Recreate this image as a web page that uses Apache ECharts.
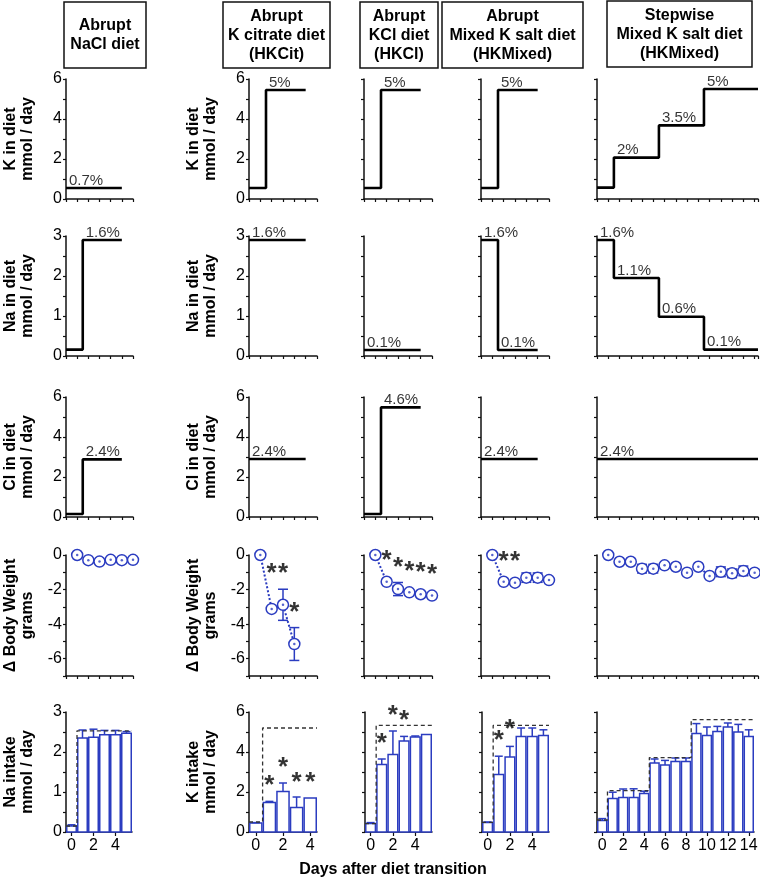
<!DOCTYPE html>
<html><head><meta charset="utf-8">
<script src="https://cdn.jsdelivr.net/npm/echarts@6/dist/echarts.min.js"></script>
<style>html,body{margin:0;padding:0;background:#fff}#c{width:760px;height:880px}</style>
</head><body><div id="c"></div>
<script>
// ================= DATA =================
const headerTitles = ['Abrupt\nNaCl diet', 'Abrupt\nK citrate diet\n(HKCit)', 'Abrupt\nKCl diet\n(HKCl)', 'Abrupt\nMixed K salt diet\n(HKMixed)', 'Stepwise\nMixed K salt diet\n(HKMixed)'];
const xTitle = 'Days after diet transition';
const yTitlesCol0 = ['K in diet\nmmol / day', 'Na in diet\nmmol / day', 'Cl in diet\nmmol / day', '\u0394 Body Weight\ngrams', 'Na intake\nmmol / day'];
const yTitlesCol1 = ['K in diet\nmmol / day', 'Na in diet\nmmol / day', 'Cl in diet\nmmol / day', '\u0394 Body Weight\ngrams', 'K intake\nmmol / day'];
const xTicksAbrupt = [0, 2, 4];
const xTicksStepwise = [0, 2, 4, 6, 8, 10, 12, 14];

// diet schedule (day of change, end of drawn line)
const dietSwitchAbrupt = [0.5];
const dietSwitchStepwise = [0.5, 4.5, 8.5];
const dietEndAbrupt = 4;
const dietEndStepwise = 13.3;

// K in diet (mmol/day)
const kDietNaCl = [0.55, 0.55];
const kDietHKCit = [0.55, 5.45];
const kDietHKCl = [0.55, 5.45];
const kDietHKMixed = [0.55, 5.45];
const kDietStepwise = [0.57, 2.07, 3.68, 5.5];
const kDietPctNaCl = ['0.7%', null];
const kDietPctHKCit = [null, '5%'];
const kDietPctHKCl = [null, '5%'];
const kDietPctHKMixed = [null, '5%'];
const kDietPctStepwise = [null, '2%', '3.5%', '5%'];

// Na in diet (mmol/day)
const naDietNaCl = [0.16, 2.9];
const naDietHKCit = [2.9, 2.9];
const naDietHKCl = [0.15, 0.15];
const naDietHKMixed = [2.9, 0.15];
const naDietStepwise = [2.9, 1.95, 0.98, 0.16];
const naDietPctNaCl = [null, '1.6%'];
const naDietPctHKCit = ['1.6%', null];
const naDietPctHKCl = ['0.1%', null];
const naDietPctHKMixed = ['1.6%', '0.1%'];
const naDietPctStepwise = ['1.6%', '1.1%', '0.6%', '0.1%'];

// Cl in diet (mmol/day)
const clDietNaCl = [0.15, 2.88];
const clDietHKCit = [2.9, 2.9];
const clDietHKCl = [0.15, 5.48];
const clDietHKMixed = [2.9, 2.9];
const clDietStepwise = [2.9, 2.9, 2.9, 2.9];
const clDietPctNaCl = [null, '2.4%'];
const clDietPctHKCit = ['2.4%', null];
const clDietPctHKCl = [null, '4.6%'];
const clDietPctHKMixed = ['2.4%', null];
const clDietPctStepwise = ['2.4%', null, null, null];

// Delta body weight (grams), mean and SEM
const bwDaysAbrupt = [0, 1, 2, 3, 4, 5];
const bwDaysHKCit = [0, 1, 2, 3];
const bwDaysStepwise = [0, 1, 2, 3, 4, 5, 6, 7, 8, 9, 10, 11, 12, 13];
const bwNaCl = [0, -0.3, -0.38, -0.28, -0.3, -0.28];
const bwNaClSem = [0, 0.08, 0.08, 0.08, 0.08, 0.08];
const bwHKCit = [0, -3.12, -2.88, -5.15];
const bwHKCitSem = [0, 0.15, 0.9, 0.95];
const bwHKCl = [0, -1.55, -1.97, -2.16, -2.27, -2.35];
const bwHKClSem = [0, 0.1, 0.38, 0.1, 0.1, 0.08];
const bwHKMixed = [0, -1.55, -1.6, -1.31, -1.31, -1.45];
const bwHKMixedSem = [0, 0.1, 0.1, 0.27, 0.27, 0.1];
const bwStepwise = [0, -0.39, -0.39, -0.79, -0.79, -0.6, -0.68, -1.02, -0.68, -1.21, -0.97, -1.06, -0.92, -1.02];
const bwStepwiseSem = [0, 0.1, 0.1, 0.25, 0.25, 0.1, 0.1, 0.1, 0.1, 0.1, 0.28, 0.25, 0.28, 0.1];
const bwStarDaysHKCit = [1, 2, 3];
const bwStarLevelsHKCit = [-0.73, -0.73, -3.0];
const bwStarDaysHKCl = [1, 2, 3, 4, 5];
const bwStarLevelsHKCl = [0, -0.39, -0.62, -0.71, -0.81];
const bwStarDaysHKMixed = [1, 2];
const bwStarLevelsHKMixed = [-0.06, -0.06];

// Intake (mmol/day), mean and SEM; dashed = dietary content
const intakeDaysAbrupt = [0, 1, 2, 3, 4, 5];
const intakeDaysHKCit = [0, 1, 2, 3, 4];
const intakeDaysStepwise = [0, 1, 2, 3, 4, 5, 6, 7, 8, 9, 10, 11, 12, 13, 14];
const naIntakeNaCl = [0.15, 2.35, 2.37, 2.43, 2.43, 2.47];
const naIntakeNaClSem = [0.03, 0.2, 0.2, 0.11, 0.11, 0.04];
const naIntakeNaClDiet = [0.15, 2.53];
const kIntakeHKCit = [0.45, 1.48, 2.03, 1.23, 1.7];
const kIntakeHKCitSem = [0.02, 0.05, 0.42, 0.52, 0];
const kIntakeHKCitDiet = [0.5, 5.2];
const kIntakeHKCl = [0.42, 3.38, 3.88, 4.55, 4.75, 4.88];
const kIntakeHKClSem = [0.05, 0.27, 1.17, 0.23, 0.05, 0];
const kIntakeHKClDiet = [0.42, 5.33];
const kIntakeHKMixed = [0.48, 2.87, 3.75, 4.78, 4.78, 4.83];
const kIntakeHKMixedSem = [0.02, 0.92, 0.53, 0.42, 0.42, 0.28];
const kIntakeHKMixedDiet = [0.48, 5.33];
const kIntakeStepwise = [0.57, 1.67, 1.73, 1.73, 1.92, 3.45, 3.35, 3.53, 3.53, 4.92, 4.83, 5.03, 5.25, 5.0, 4.78];
const kIntakeStepwiseSem = [0.1, 0.32, 0.42, 0.43, 0.12, 0.2, 0.23, 0.17, 0.17, 0.5, 0.42, 0.25, 0.2, 0.38, 0.33];
const kIntakeStepwiseDiet = [0.6, 2.07, 3.72, 5.62];
const intakeStarDaysHKCit = [1, 2, 3, 4];
const intakeStarLevelsHKCit = [2.6, 3.5, 2.77, 2.77];
const intakeStarDaysHKCl = [1, 2, 3];
const intakeStarLevelsHKCl = [4.7, 6.1, 5.85];
const intakeStarDaysHKMixed = [1, 2];
const intakeStarLevelsHKMixed = [4.85, 5.4];

// ================= LAYOUT / STYLE =================
const BLUE = '#2b3cc0';
const INK = '#000';
const FONT = '"Liberation Sans", Arial, Helvetica, sans-serif';
const colLeft = [66, 249, 364, 481, 597];
const colWidth = [67, 68, 68, 68, 161];
const row5Left = [66, 249, 365, 482, 597];
const row5Width = [66, 68, 67, 67, 157];
const rowTop = [79, 236, 397, 555, 712];
const rowH = [120, 120, 120, 121, 120];
const headerBoxes = [[64, 2, 82, 66], [223, 2, 107, 66], [360, 2, 78, 66], [442, 2, 141, 66], [607, 1, 145, 66]];

const grids = [], xAxes = [], yAxes = [], series = [];

function fmtEvery(step) {
  return v => { const q = v / step; return Math.abs(q - Math.round(q)) < 1e-6 ? String(v) : ''; };
}

function addPanel(r, c, xCfg, yCfg, yName) {
  const i = grids.length;
  const last = r === 4;
  grids.push({left: (last ? row5Left : colLeft)[c], top: rowTop[r], width: (last ? row5Width : colWidth)[c], height: rowH[r], containLabel: false, outerBoundsMode: 'none'});
  const axisLine = {show: true, onZero: false, lineStyle: {color: '#111', width: 1.5}};
  const axisTick = {show: true, inside: false, length: 3, lineStyle: {color: '#111', width: 1.2}};
  const x = {type: 'value', gridIndex: i, min: xCfg.min, max: xCfg.max, axisLine, splitLine: {show: false}, axisTick: Object.assign({}, axisTick), axisLabel: {show: false}};
  if (xCfg.labels) {
    x.axisLabel = {show: true, customValues: xCfg.labels, fontSize: 16, color: INK, fontFamily: FONT, margin: 6};
    x.axisTick = Object.assign({}, axisTick, {customValues: xCfg.labels, length: 4});
  } else {
    x.interval = xCfg.interval;
  }
  xAxes.push(x);
  const y = {type: 'value', gridIndex: i, min: yCfg.min, max: yCfg.max, interval: yCfg.interval, axisLine, axisTick, splitLine: {show: false},
    axisLabel: {show: c < 2, fontSize: 16, color: INK, fontFamily: FONT, margin: 4, formatter: fmtEvery(yCfg.labelEvery)}};
  if (yName) Object.assign(y, {name: yName, nameLocation: 'middle', nameGap: 30, nameRotate: 90, nameMoveOverlap: false,
    nameTextStyle: {fontSize: 16, fontWeight: 'bold', fontFamily: FONT, color: INK, lineHeight: 17}});
  yAxes.push(y);
  return i;
}

function stepPts(levels, switches, start, end) {
  const pts = [[start, levels[0]]];
  switches.forEach((s, k) => { pts.push([s, levels[k]]); pts.push([s, levels[k + 1]]); });
  pts.push([end, levels[levels.length - 1]]);
  return pts;
}

function addStep(i, levels, pcts, switches, end) {
  series.push({type: 'line', xAxisIndex: i, yAxisIndex: i, data: stepPts(levels, switches, -1, end), showSymbol: false, symbol: 'none',
    lineStyle: {color: INK, width: 2.6}, clip: false, silent: true, z: 3});
  const ann = [];
  pcts.forEach((t, k) => { if (t) ann.push([k === 0 ? -1 : switches[k - 1], levels[k], t]); });
  series.push({type: 'scatter', xAxisIndex: i, yAxisIndex: i, data: ann, symbolSize: 0, clip: false, silent: true, z: 4,
    label: {show: true, position: 'top', align: 'left', distance: 0, offset: [3, 0], formatter: p => p.data[2], fontSize: 15, color: INK, fontFamily: FONT}});
}

function addStars(i, days, levels) {
  series.push({type: 'scatter', xAxisIndex: i, yAxisIndex: i, data: days.map((x, k) => [x, levels[k]]), symbolSize: 0, clip: false, silent: true, z: 6,
    label: {show: true, position: 'inside', formatter: '*', fontSize: 26, fontWeight: 'bold', color: INK, fontFamily: FONT, offset: [0, 6]}});
}

function renderBWErr(params, api) {
  const x = api.value(0), y = api.value(1), e = api.value(2);
  if (!(e > 0)) return {type: 'group', children: []};
  const a = api.coord([x, y + e]), b = api.coord([x, y - e]);
  const st = {stroke: BLUE, lineWidth: 1.5};
  return {type: 'group', children: [
    {type: 'line', shape: {x1: a[0], y1: a[1], x2: b[0], y2: b[1]}, style: st},
    {type: 'line', shape: {x1: a[0] - 5, y1: a[1], x2: a[0] + 5, y2: a[1]}, style: st},
    {type: 'line', shape: {x1: b[0] - 5, y1: b[1], x2: b[0] + 5, y2: b[1]}, style: st}
  ]};
}

function addBW(i, days, vals, sems) {
  const d = days.map((x, k) => [x, vals[k], sems[k]]);
  series.push({type: 'custom', xAxisIndex: i, yAxisIndex: i, data: d, encode: {x: 0, y: 1}, renderItem: renderBWErr, clip: false, silent: true, z: 2});
  series.push({type: 'line', xAxisIndex: i, yAxisIndex: i, data: d.map(v => [v[0], v[1]]), showSymbol: false, symbol: 'none',
    lineStyle: {color: BLUE, width: 2, type: 'dotted'}, silent: true, z: 3});
  series.push({type: 'scatter', xAxisIndex: i, yAxisIndex: i, data: d.map(v => [v[0], v[1]]), symbol: 'circle', symbolSize: 11, silent: true, z: 4,
    itemStyle: {color: '#fff', borderColor: BLUE, borderWidth: 1.5, opacity: 1}});
  series.push({type: 'scatter', xAxisIndex: i, yAxisIndex: i, data: d.map(v => [v[0], v[1]]), symbol: 'circle', symbolSize: 2.5, silent: true, z: 5,
    itemStyle: {color: BLUE}});
}

function renderBar(params, api) {
  const x = api.value(0), y = api.value(1), e = api.value(2);
  const tl = api.coord([x - 0.5, y]), br = api.coord([x + 0.5, 0]);
  const kids = [{type: 'rect', shape: {x: tl[0] + 0.75, y: tl[1], width: br[0] - tl[0] - 1.5, height: br[1] - tl[1]}, style: {fill: '#fff', stroke: BLUE, lineWidth: 1.5}}];
  if (e > 0) {
    const top = api.coord([x, y + e]), mid = api.coord([x, y]);
    kids.push({type: 'line', shape: {x1: mid[0], y1: mid[1], x2: top[0], y2: top[1]}, style: {stroke: BLUE, lineWidth: 1.5}});
    kids.push({type: 'line', shape: {x1: top[0] - 4, y1: top[1], x2: top[0] + 4, y2: top[1]}, style: {stroke: BLUE, lineWidth: 1.5}});
  }
  return {type: 'group', children: kids};
}

function addIntake(i, days, vals, sems, diet, switches, end) {
  series.push({type: 'custom', xAxisIndex: i, yAxisIndex: i, data: days.map((x, k) => [x, vals[k], sems[k]]), encode: {x: 0, y: 1},
    renderItem: renderBar, clip: false, silent: true, z: 2});
  series.push({type: 'line', xAxisIndex: i, yAxisIndex: i, data: stepPts(diet, switches, -0.5, end), showSymbol: false, symbol: 'none',
    lineStyle: {color: '#333', width: 1.3, type: [4, 3]}, silent: true, clip: false, z: 3});
}

// ---------- build panels ----------
const xDiet = [{min: -1, max: 5, interval: 1}, {min: -1, max: 5, interval: 1}, {min: -1, max: 5, interval: 1}, {min: -1, max: 5, interval: 1}, {min: -1, max: 13.3, interval: 1}];
const yK = {min: 0, max: 6, interval: 1, labelEvery: 2};
const yNa = {min: 0, max: 3, interval: 0.5, labelEvery: 1};
const yBW = {min: -7, max: 0, interval: 1, labelEvery: 2};
const nameFor = (r, c) => c === 0 ? yTitlesCol0[r] : (c === 1 ? yTitlesCol1[r] : null);
const sw = c => c === 4 ? dietSwitchStepwise : dietSwitchAbrupt;
const en = c => c === 4 ? dietEndStepwise : dietEndAbrupt;

const kDietAll = [kDietNaCl, kDietHKCit, kDietHKCl, kDietHKMixed, kDietStepwise];
const kPctAll = [kDietPctNaCl, kDietPctHKCit, kDietPctHKCl, kDietPctHKMixed, kDietPctStepwise];
const naDietAll = [naDietNaCl, naDietHKCit, naDietHKCl, naDietHKMixed, naDietStepwise];
const naPctAll = [naDietPctNaCl, naDietPctHKCit, naDietPctHKCl, naDietPctHKMixed, naDietPctStepwise];
const clDietAll = [clDietNaCl, clDietHKCit, clDietHKCl, clDietHKMixed, clDietStepwise];
const clPctAll = [clDietPctNaCl, clDietPctHKCit, clDietPctHKCl, clDietPctHKMixed, clDietPctStepwise];

for (let c = 0; c < 5; c++) {
  let i = addPanel(0, c, xDiet[c], yK, nameFor(0, c));
  addStep(i, kDietAll[c], kPctAll[c], sw(c), en(c));
  i = addPanel(1, c, xDiet[c], yNa, nameFor(1, c));
  addStep(i, naDietAll[c], naPctAll[c], sw(c), en(c));
  i = addPanel(2, c, xDiet[c], yK, nameFor(2, c));
  addStep(i, clDietAll[c], clPctAll[c], sw(c), en(c));
}

// body weight row
const bwCfg = [
  [bwDaysAbrupt, bwNaCl, bwNaClSem, null, null],
  [bwDaysHKCit, bwHKCit, bwHKCitSem, bwStarDaysHKCit, bwStarLevelsHKCit],
  [bwDaysAbrupt, bwHKCl, bwHKClSem, bwStarDaysHKCl, bwStarLevelsHKCl],
  [bwDaysAbrupt, bwHKMixed, bwHKMixedSem, bwStarDaysHKMixed, bwStarLevelsHKMixed],
  [bwDaysStepwise, bwStepwise, bwStepwiseSem, null, null]
];
bwCfg.forEach((b, c) => {
  const i = addPanel(3, c, xDiet[c], yBW, nameFor(3, c));
  addBW(i, b[0], b[1], b[2]);
  if (b[3]) addStars(i, b[3], b[4]);
});

// intake row
const intakeCfg = [
  [intakeDaysAbrupt, naIntakeNaCl, naIntakeNaClSem, naIntakeNaClDiet, yNa, {min: -0.5, max: 5.5, labels: xTicksAbrupt}, null, null],
  [intakeDaysHKCit, kIntakeHKCit, kIntakeHKCitSem, kIntakeHKCitDiet, yK, {min: -0.5, max: 4.5, labels: xTicksAbrupt}, intakeStarDaysHKCit, intakeStarLevelsHKCit],
  [intakeDaysAbrupt, kIntakeHKCl, kIntakeHKClSem, kIntakeHKClDiet, yK, {min: -0.5, max: 5.5, labels: xTicksAbrupt}, intakeStarDaysHKCl, intakeStarLevelsHKCl],
  [intakeDaysAbrupt, kIntakeHKMixed, kIntakeHKMixedSem, kIntakeHKMixedDiet, yK, {min: -0.5, max: 5.5, labels: xTicksAbrupt}, intakeStarDaysHKMixed, intakeStarLevelsHKMixed],
  [intakeDaysStepwise, kIntakeStepwise, kIntakeStepwiseSem, kIntakeStepwiseDiet, yK, {min: -0.5, max: 14.5, labels: xTicksStepwise}, null, null]
];
intakeCfg.forEach((b, c) => {
  const i = addPanel(4, c, b[5], b[4], nameFor(4, c));
  addIntake(i, b[0], b[1], b[2], b[3], sw(c), b[5].max);
  if (b[6]) addStars(i, b[6], b[7]);
});

// headers
const graphics = [];
headerBoxes.forEach((bx, k) => {
  graphics.push({type: 'rect', shape: {x: bx[0], y: bx[1], width: bx[2], height: bx[3]}, style: {fill: '#fff', stroke: '#111', lineWidth: 1.5}, silent: true});
  graphics.push({type: 'text', x: bx[0] + bx[2] / 2, y: bx[1] + bx[3] / 2 + 0.5, silent: true,
    style: {text: headerTitles[k], align: 'center', verticalAlign: 'middle', textAlign: 'center', textVerticalAlign: 'middle',
      fontSize: 16, fontWeight: 'bold', fontFamily: FONT, lineHeight: 19, fill: INK}});
});
graphics.push({type: 'text', x: 393, y: 870, silent: true,
  style: {text: xTitle, align: 'center', verticalAlign: 'middle', textAlign: 'center', textVerticalAlign: 'middle',
    fontSize: 16, fontWeight: 'bold', fontFamily: FONT, fill: INK}});

const chart = echarts.init(document.getElementById('c'), null, {renderer: 'canvas', width: 760, height: 880});
chart.setOption({
  animation: false,
  backgroundColor: '#fff',
  grid: grids,
  xAxis: xAxes,
  yAxis: yAxes,
  series: series,
  graphic: {elements: graphics}
});
</script>
</body></html>
